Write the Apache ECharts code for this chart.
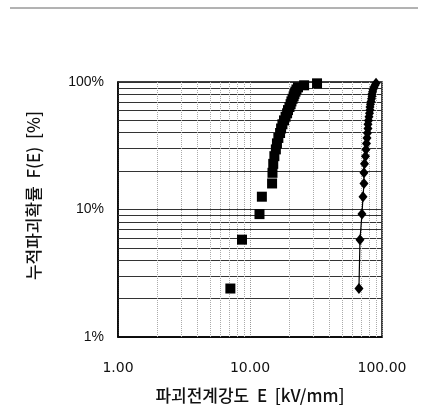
<!DOCTYPE html>
<html>
<head>
<meta charset="utf-8">
<script src="https://cdn.jsdelivr.net/npm/echarts@6/dist/echarts.min.js"></script>
<style>
  html, body { margin: 0; padding: 0; background: #fff; }
  #chart { width: 421px; height: 409px; }
</style>
</head>
<body>
<div id="chart"></div>
<script>
// cumulative failure probability [%] (shared by both samples)
const probF = [2.4, 5.8, 9.2, 12.6, 16.0, 19.4, 22.8, 26.2, 29.6, 33.0,
  36.4, 39.8, 43.2, 46.6, 50.0, 53.4, 56.8, 60.2, 63.6, 67.0,
  70.4, 73.8, 77.2, 80.6, 84.0, 87.4, 90.8, 94.2, 97.6]

// breakdown field E [kV/mm], square marker sample
const squareE = [7.1, 8.7, 11.8, 12.3, 14.7, 14.8, 15.0, 15.3, 15.7, 16.0,
  16.4, 16.9, 17.2, 17.6, 18.1, 18.6, 19.1, 19.4, 19.9, 20.3,
  20.6, 21.0, 21.4, 21.7, 22.1, 22.5, 23.1, 25.7, 32.2]

// breakdown field E [kV/mm], diamond marker sample
const diamondE = [66.9, 68.1, 70.5, 71.8, 73.0, 73.0, 73.7, 75.0, 75.6, 76.3,
  77.0, 77.6, 78.3, 78.3, 79.0, 79.7, 80.4, 81.1, 81.1, 81.8,
  82.6, 83.3, 84.0, 84.0, 84.8, 85.5, 86.9, 88.5, 90.1]

// minor grid values
const yMinorGrid = [2, 3, 4, 5, 6, 7, 8, 9, 20, 30, 40, 50, 60, 70, 80, 90]
const xMinorGrid = [2, 3, 4, 5, 6, 7, 8, 9, 20, 30, 40, 50, 60, 70, 80, 90]

const korFont = '"Noto Sans CJK KR", sans-serif'

const chart = echarts.init(document.getElementById('chart'))

const option = {
  animation: false,
  backgroundColor: '#fff',
  grid: {
    left: 118,
    top: 82,
    right: 39,
    bottom: 68,
    show: true,
    borderColor: '#000',
    borderWidth: 1.5
  },
  graphic: [
    {
      type: 'line',
      shape: { x1: 10, y1: 8, x2: 418, y2: 8 },
      style: { stroke: '#666', lineWidth: 1 }
    }
  ],
  xAxis: {
    type: 'log',
    logBase: 10,
    min: 1,
    max: 100,
    name: '파괴전계강도  E  [kV/mm]',
    nameLocation: 'middle',
    nameGap: 50,
    nameTextStyle: { fontFamily: korFont, fontSize: 17, fontWeight: 500, color: '#111' },
    axisLine: { show: true, lineStyle: { color: '#000', width: 1.5 } },
    axisTick: { show: false },
    axisLabel: {
      margin: 24,
      fontFamily: '"DejaVu Sans", sans-serif',
      fontSize: 14,
      color: '#111',
      formatter: v => v.toFixed(2)
    },
    splitLine: { show: true, lineStyle: { color: '#999', type: 'dotted' } }
  },
  yAxis: {
    type: 'log',
    logBase: 10,
    min: 1,
    max: 100,
    name: '누적파괴확률  F(E)  [%]',
    nameLocation: 'middle',
    nameGap: 76,
    nameTextStyle: { fontFamily: korFont, fontSize: 17, fontWeight: 500, color: '#111', padding: [0, 0, 0, 28] },
    axisLine: { show: true, lineStyle: { color: '#000', width: 1.5 } },
    axisTick: { show: false },
    axisLabel: {
      margin: 14,
      fontFamily: '"Liberation Sans", Arial, sans-serif',
      fontSize: 14,
      color: '#111',
      formatter: v => v + '%'
    },
    splitLine: { show: true, lineStyle: { color: '#333', width: 1 } }
  },
  series: [
    {
      // grid lines at minor log values, drawn under the marks
      name: 'grid',
      type: 'scatter',
      data: [],
      silent: true,
      z: 1,
      markLine: {
        silent: true,
        symbol: 'none',
        label: { show: false },
        animation: false,
        z: 1,
        data: [
          ...yMinorGrid.map(v => ({ yAxis: v, lineStyle: { color: '#333', width: 1, type: 'solid' } })),
          ...xMinorGrid.map(v => ({ xAxis: v, lineStyle: { color: '#aaa', width: 1, type: 'dotted' } }))
        ]
      }
    },
    {
      name: 'square',
      type: 'scatter',
      symbol: 'rect',
      symbolSize: 10,
      itemStyle: { color: '#000', opacity: 1 },
      data: squareE.map((e, i) => [e, probF[i]]),
      z: 10
    },
    {
      name: 'diamond',
      type: 'line',
      symbol: 'diamond',
      symbolSize: [9, 11],
      showAllSymbol: true,
      itemStyle: { color: '#000' },
      lineStyle: { color: '#000', width: 1.2 },
      data: diamondE.map((e, i) => [e, probF[i]]),
      z: 10
    }
  ]
}

chart.setOption(option)
</script>
</body>
</html>
